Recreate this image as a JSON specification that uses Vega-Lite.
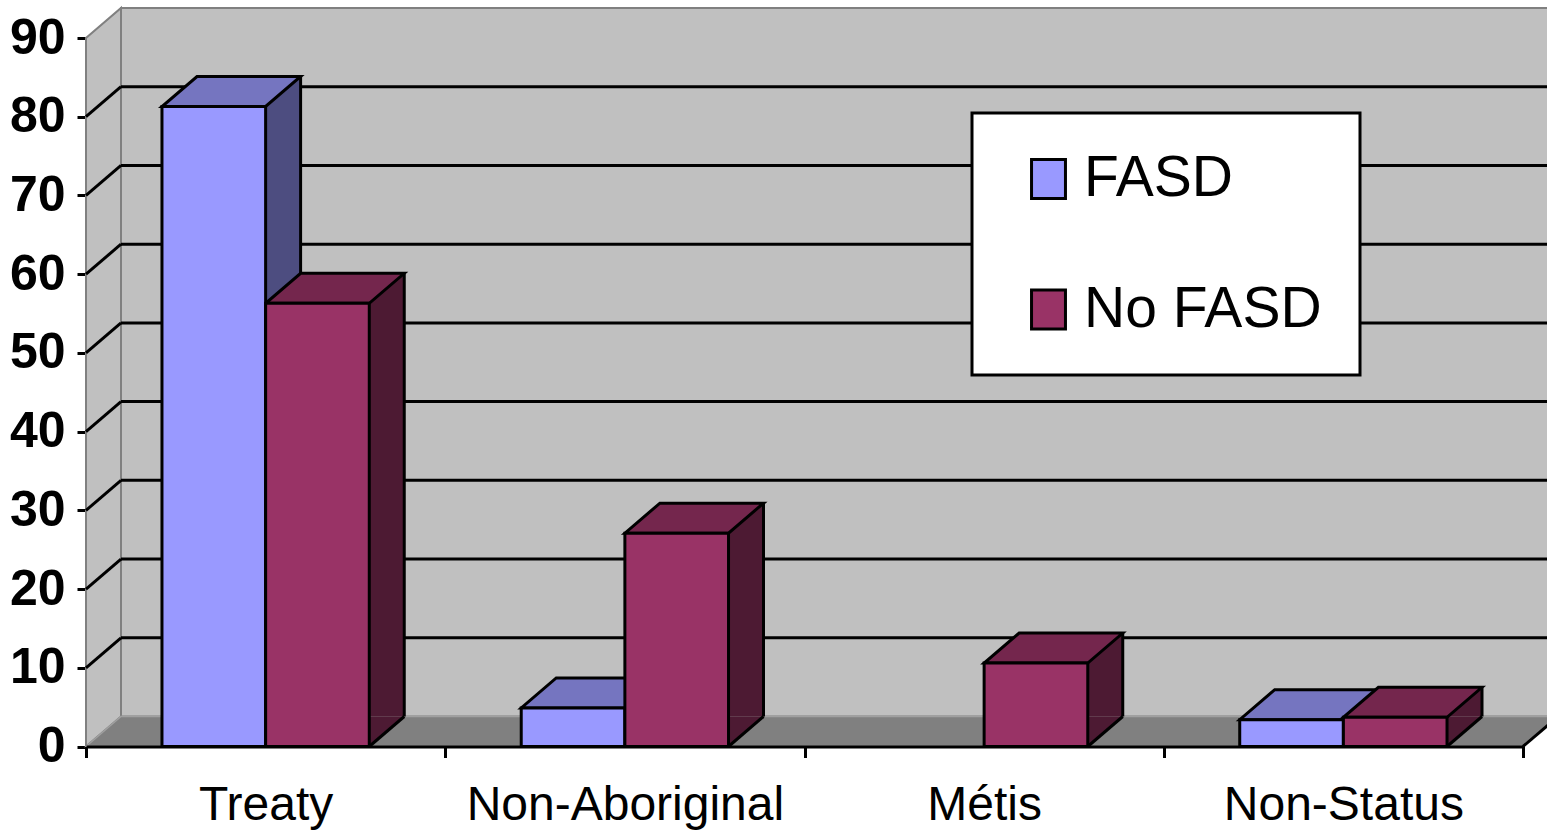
{
  "$schema": "https://vega.github.io/schema/vega-lite/v6.json",
  "width": 1437,
  "height": 708.5,
  "autosize": "none",
  "padding": {"left": 86, "top": 38, "right": 24, "bottom": 84.5},
  "background": "white",
  "config": {
    "view": {"stroke": null},
    "font": "Liberation Sans",
    "axisY": {"grid": false, "domainColor": "black", "domainWidth": 3, "tickColor": "black", "tickWidth": 3, "tickSize": 9, "labelFontSize": 50, "labelFontWeight": "bold", "labelColor": "black", "labelPadding": 12, "zindex": 1}
  },
  "resolve": {"scale": {"x": "independent"}},
  "layer": [
    {
      "layer": [
        {
          "data": {"values": [{"part": "back wall"}]},
          "mark": {"type": "rect", "fill": "#c0c0c0", "stroke": "#808080", "strokeWidth": 2, "xOffset": 35, "x2Offset": 35, "yOffset": -30, "y2Offset": -30},
          "encoding": {
            "x": {"datum": 0, "type": "quantitative", "scale": {"domain": [0, 1], "nice": false, "zero": false}, "axis": null},
            "x2": {"datum": 1},
            "y": {"datum": 0, "type": "quantitative", "scale": {"domain": [0, 90], "nice": false}, "axis": {"title": null}},
            "y2": {"datum": 90}
          }
        },
        {
          "data": {"values": [{"part": "left wall"}]},
          "mark": {"type": "point", "shape": "M0,0L0,-708.5L35,-738.5L35,-30Z", "size": 4, "filled": true, "fill": "#c0c0c0", "stroke": "#808080", "strokeWidth": 2, "opacity": 1},
          "encoding": {
            "x": {"datum": 0, "type": "quantitative", "axis": null},
            "y": {"datum": 0, "type": "quantitative", "axis": {"title": null}}
          }
        },
        {
          "data": {"values": [{"part": "floor"}]},
          "mark": {"type": "point", "shape": "M0,0L35,-30L1472,-30L1437,0Z", "size": 4, "filled": true, "fill": "#808080", "stroke": "#a0a0a0", "strokeWidth": 1.5, "opacity": 1},
          "encoding": {
            "x": {"datum": 0, "type": "quantitative", "axis": null},
            "y": {"datum": 0, "type": "quantitative", "axis": {"title": null}}
          }
        },
        {
          "data": {"values": [{"grid": 10}, {"grid": 20}, {"grid": 30}, {"grid": 40}, {"grid": 50}, {"grid": 60}, {"grid": 70}, {"grid": 80}]},
          "mark": {"type": "rule", "stroke": "black", "strokeWidth": 3, "xOffset": 35, "x2Offset": 35, "yOffset": -30},
          "encoding": {
            "x": {"datum": 0, "type": "quantitative", "axis": null},
            "x2": {"datum": 1},
            "y": {"field": "grid", "type": "quantitative", "axis": {"title": null}}
          }
        },
        {
          "data": {"values": [{"grid": 10}, {"grid": 20}, {"grid": 30}, {"grid": 40}, {"grid": 50}, {"grid": 60}, {"grid": 70}, {"grid": 80}]},
          "mark": {"type": "rule", "stroke": "black", "strokeWidth": 3, "x2Offset": 35, "y2Offset": -30},
          "encoding": {
            "x": {"datum": 0, "type": "quantitative", "axis": null},
            "x2": {"datum": 0},
            "y": {"field": "grid", "type": "quantitative", "axis": {"title": null}},
            "y2": {"field": "grid"}
          }
        },
        {
          "data": {"values": [{"part": "floor edge"}]},
          "mark": {"type": "point", "shape": "M0,0L35,-30", "size": 4, "filled": false, "stroke": "black", "strokeWidth": 3, "opacity": 1},
          "encoding": {
            "x": {"datum": 1, "type": "quantitative", "axis": null},
            "y": {"datum": 0, "type": "quantitative", "axis": {"title": null}}
          }
        }
      ]
    },
    {
      "data": {
        "values": [
          {"category": "Treaty", "series": "FASD", "value": 81.3},
          {"category": "Treaty", "series": "No FASD", "value": 56.3},
          {"category": "Non-Aboriginal", "series": "FASD", "value": 4.9},
          {"category": "Non-Aboriginal", "series": "No FASD", "value": 27.1},
          {"category": "Métis", "series": "FASD", "value": 0},
          {"category": "Métis", "series": "No FASD", "value": 10.6},
          {"category": "Non-Status", "series": "FASD", "value": 3.4},
          {"category": "Non-Status", "series": "No FASD", "value": 3.7}
        ]
      },
      "transform": [{"filter": "datum.value > 0"}],
      "resolve": {"scale": {"xOffset": "independent"}},
      "encoding": {
        "x": {
          "field": "category", "type": "nominal",
          "sort": ["Treaty", "Non-Aboriginal", "Métis", "Non-Status"],
          "scale": {"paddingInner": 0, "paddingOuter": 0},
          "axis": {"title": null, "domainColor": "black", "domainWidth": 3, "tickColor": "black", "tickWidth": 3, "tickSize": 11, "tickBand": "extent", "labelFontSize": 48, "labelColor": "black", "labelPadding": 24, "labelAngle": 0, "labelLimit": 600, "zindex": 1}
        },
        "xOffset": {"field": "series", "type": "nominal", "sort": ["FASD", "No FASD"], "scale": {"type": "band", "paddingInner": 0, "paddingOuter": 0.733}},
        "y": {
          "field": "value", "type": "quantitative",
          "scale": {"domain": [0, 90], "nice": false},
          "axis": {"title": null, "values": [0, 10, 20, 30, 40, 50, 60, 70, 80, 90]}
        }
      },
      "layer": [
        {
          "mark": {"type": "bar", "yOffset": -30, "y2Offset": -30},
          "encoding": {
            "xOffset": {"field": "series", "type": "nominal", "sort": ["FASD", "No FASD"], "scale": {"type": "band", "range": [35, 394.25], "paddingInner": 0, "paddingOuter": 0.733}},
            "fill": {"condition": {"test": "datum.series === 'FASD'", "value": "#4d4d80"}, "value": "#4d1a33"}
          }
        },
        {
          "mark": {"type": "point", "shape": "M51.8,0L51.8,-30L86.8,-30Z", "size": 4, "filled": true, "strokeWidth": 0, "opacity": 1},
          "encoding": {
            "y": {"datum": 0, "type": "quantitative", "axis": {"title": null}},
            "fill": {"condition": {"test": "datum.series === 'FASD'", "value": "#4d4d80"}, "value": "#4d1a33"}
          }
        },
        {
          "mark": {"type": "rule", "stroke": "black", "strokeWidth": 3, "yOffset": -30, "y2Offset": -30},
          "encoding": {
            "xOffset": {"field": "series", "type": "nominal", "sort": ["FASD", "No FASD"], "scale": {"type": "band", "range": [86.8, 446.05], "paddingInner": 0, "paddingOuter": 0.733}},
            "y2": {"datum": 0}
          }
        },
        {
          "mark": {"type": "point", "shape": "M51.8,0L86.8,-30", "size": 4, "filled": false, "stroke": "black", "strokeWidth": 3, "opacity": 1},
          "encoding": {"y": {"datum": 0, "type": "quantitative", "axis": {"title": null}}}
        },
        {
          "mark": {"type": "point", "shape": "M-51.8,0L51.8,0L86.8,-30L-16.8,-30Z", "size": 4, "filled": true, "stroke": "black", "strokeWidth": 3, "opacity": 1},
          "encoding": {"fill": {"condition": {"test": "datum.series === 'FASD'", "value": "#7575c0"}, "value": "#74264d"}}
        },
        {
          "mark": {"type": "bar", "stroke": "black", "strokeWidth": 3},
          "encoding": {
            "color": {
              "field": "series", "type": "nominal",
              "scale": {"domain": ["FASD", "No FASD"], "range": ["#9999ff", "#993366"]},
              "legend": {
                "title": null, "orient": "none", "legendX": 886, "legendY": 75,
                "fillColor": "white", "strokeColor": "black", "padding": 37.5,
                "symbolType": "M-0.87,-1L0.87,-1L0.87,1L-0.87,1Z", "symbolSize": 1521,
                "symbolStrokeColor": "black", "symbolStrokeWidth": 3, "symbolOffset": 10.5, "symbolOpacity": 1,
                "labelFontSize": 57, "labelColor": "black", "labelOffset": 7, "rowPadding": 72.5, "labelLimit": 600,
                "encode": {"legend": {"update": {"strokeWidth": {"value": 3}}}}
              }
            }
          }
        }
      ]
    }
  ]
}
